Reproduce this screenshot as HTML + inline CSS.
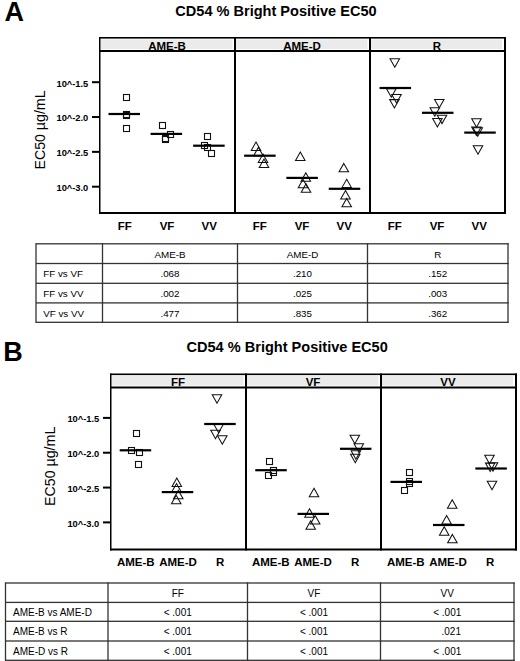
<!DOCTYPE html>
<html><head><meta charset="utf-8"><style>
html,body{margin:0;padding:0;background:#fff;width:520px;height:661px;overflow:hidden}
svg{display:block;font-family:"Liberation Sans", sans-serif}
</style></head><body>
<svg width="520" height="661" viewBox="0 0 520 661">
<rect x="0" y="0" width="520" height="661" fill="#fff"/>
<rect x="101" y="39.5" width="131.5" height="9.5" fill="#ebebeb"/>
<rect x="236" y="39.5" width="131.5" height="9.5" fill="#ebebeb"/>
<rect x="371" y="39.5" width="131" height="9.5" fill="#ebebeb"/>
<rect x="99" y="37" width="1.5" height="177" fill="#000"/>
<rect x="504" y="37" width="2" height="177" fill="#000"/>
<rect x="99" y="37" width="407" height="1.6" fill="#000"/>
<rect x="99" y="50" width="407" height="2" fill="#000"/>
<rect x="99" y="212" width="407" height="2" fill="#000"/>
<rect x="234" y="37" width="2" height="177" fill="#000"/>
<rect x="369" y="37" width="2" height="177" fill="#000"/>
<text x="167.00" y="49.60" font-size="11.5" font-weight="bold" text-anchor="middle" fill="#000" >AME-B</text>
<text x="302.00" y="49.60" font-size="11.5" font-weight="bold" text-anchor="middle" fill="#000" >AME-D</text>
<text x="437.00" y="49.60" font-size="11.5" font-weight="bold" text-anchor="middle" fill="#000" >R</text>
<rect x="92" y="81.20" width="7" height="2" fill="#000"/>
<text x="88.3" y="86.50" font-size="9.3" font-weight="bold" text-anchor="end" fill="#000" >10^-1.5</text>
<rect x="92" y="116.03" width="7" height="2" fill="#000"/>
<text x="88.3" y="121.33" font-size="9.3" font-weight="bold" text-anchor="end" fill="#000" >10^-2.0</text>
<rect x="92" y="150.86" width="7" height="2" fill="#000"/>
<text x="88.3" y="156.16" font-size="9.3" font-weight="bold" text-anchor="end" fill="#000" >10^-2.5</text>
<rect x="92" y="185.69" width="7" height="2" fill="#000"/>
<text x="88.3" y="190.99" font-size="9.3" font-weight="bold" text-anchor="end" fill="#000" >10^-3.0</text>
<text x="124.80" y="229.50" font-size="11.5" font-weight="bold" text-anchor="middle" fill="#000" >FF</text>
<text x="167.00" y="229.50" font-size="11.5" font-weight="bold" text-anchor="middle" fill="#000" >VF</text>
<text x="209.20" y="229.50" font-size="11.5" font-weight="bold" text-anchor="middle" fill="#000" >VV</text>
<text x="259.80" y="229.50" font-size="11.5" font-weight="bold" text-anchor="middle" fill="#000" >FF</text>
<text x="302.00" y="229.50" font-size="11.5" font-weight="bold" text-anchor="middle" fill="#000" >VF</text>
<text x="344.20" y="229.50" font-size="11.5" font-weight="bold" text-anchor="middle" fill="#000" >VV</text>
<text x="394.80" y="229.50" font-size="11.5" font-weight="bold" text-anchor="middle" fill="#000" >FF</text>
<text x="437.00" y="229.50" font-size="11.5" font-weight="bold" text-anchor="middle" fill="#000" >VF</text>
<text x="479.20" y="229.50" font-size="11.5" font-weight="bold" text-anchor="middle" fill="#000" >VV</text>
<text x="175.3" y="16.3" font-size="14.55" font-weight="bold" text-anchor="start" fill="#000" >CD54 % Bright Positive EC50</text>
<text x="4.4" y="21.4" font-size="27" font-weight="bold" text-anchor="start" fill="#000" >A</text>
<text x="0" y="0" font-size="14.2" text-anchor="middle" transform="translate(44.5,130) rotate(-90)">EC50 µg/mL</text>
<rect x="123.50" y="94.50" width="6" height="6" fill="none" stroke="#111" stroke-width="1.1"/>
<rect x="123.50" y="111.50" width="6" height="6" fill="none" stroke="#111" stroke-width="1.1"/>
<rect x="123.50" y="112.50" width="6" height="6" fill="none" stroke="#111" stroke-width="1.1"/>
<rect x="123.50" y="125.50" width="6" height="6" fill="none" stroke="#111" stroke-width="1.1"/>
<rect x="159.50" y="122.50" width="6" height="6" fill="none" stroke="#111" stroke-width="1.1"/>
<rect x="167.50" y="131.50" width="6" height="6" fill="none" stroke="#111" stroke-width="1.1"/>
<rect x="162.50" y="135.50" width="6" height="6" fill="none" stroke="#111" stroke-width="1.1"/>
<rect x="162.50" y="136.50" width="6" height="6" fill="none" stroke="#111" stroke-width="1.1"/>
<rect x="204.50" y="133.50" width="6" height="6" fill="none" stroke="#111" stroke-width="1.1"/>
<rect x="201.50" y="142.50" width="6" height="6" fill="none" stroke="#111" stroke-width="1.1"/>
<rect x="204.50" y="144.50" width="6" height="6" fill="none" stroke="#111" stroke-width="1.1"/>
<rect x="208.50" y="150.50" width="6" height="6" fill="none" stroke="#111" stroke-width="1.1"/>
<polygon points="256.00,142.00 260.75,150.40 251.25,150.40" fill="none" stroke="#111" stroke-width="1.05" stroke-linejoin="miter"/>
<polygon points="258.40,147.40 263.15,155.80 253.65,155.80" fill="none" stroke="#111" stroke-width="1.05" stroke-linejoin="miter"/>
<polygon points="263.00,154.10 267.75,162.50 258.25,162.50" fill="none" stroke="#111" stroke-width="1.05" stroke-linejoin="miter"/>
<polygon points="264.00,159.10 268.75,167.50 259.25,167.50" fill="none" stroke="#111" stroke-width="1.05" stroke-linejoin="miter"/>
<polygon points="300.30,152.10 305.05,160.50 295.55,160.50" fill="none" stroke="#111" stroke-width="1.05" stroke-linejoin="miter"/>
<polygon points="305.80,172.80 310.55,181.20 301.05,181.20" fill="none" stroke="#111" stroke-width="1.05" stroke-linejoin="miter"/>
<polygon points="303.00,179.30 307.75,187.70 298.25,187.70" fill="none" stroke="#111" stroke-width="1.05" stroke-linejoin="miter"/>
<polygon points="306.00,183.80 310.75,192.20 301.25,192.20" fill="none" stroke="#111" stroke-width="1.05" stroke-linejoin="miter"/>
<polygon points="343.80,163.40 348.55,171.80 339.05,171.80" fill="none" stroke="#111" stroke-width="1.05" stroke-linejoin="miter"/>
<polygon points="346.70,179.20 351.45,187.60 341.95,187.60" fill="none" stroke="#111" stroke-width="1.05" stroke-linejoin="miter"/>
<polygon points="345.50,190.60 350.25,199.00 340.75,199.00" fill="none" stroke="#111" stroke-width="1.05" stroke-linejoin="miter"/>
<polygon points="346.70,198.40 351.45,206.80 341.95,206.80" fill="none" stroke="#111" stroke-width="1.05" stroke-linejoin="miter"/>
<polygon points="390.05,58.80 399.55,58.80 394.80,67.20" fill="none" stroke="#111" stroke-width="1.05" stroke-linejoin="miter"/>
<polygon points="386.55,88.80 396.05,88.80 391.30,97.20" fill="none" stroke="#111" stroke-width="1.05" stroke-linejoin="miter"/>
<polygon points="391.75,94.50 401.25,94.50 396.50,102.90" fill="none" stroke="#111" stroke-width="1.05" stroke-linejoin="miter"/>
<polygon points="389.65,99.60 399.15,99.60 394.40,108.00" fill="none" stroke="#111" stroke-width="1.05" stroke-linejoin="miter"/>
<polygon points="434.55,99.40 444.05,99.40 439.30,107.80" fill="none" stroke="#111" stroke-width="1.05" stroke-linejoin="miter"/>
<polygon points="430.05,107.80 439.55,107.80 434.80,116.20" fill="none" stroke="#111" stroke-width="1.05" stroke-linejoin="miter"/>
<polygon points="437.25,115.20 446.75,115.20 442.00,123.60" fill="none" stroke="#111" stroke-width="1.05" stroke-linejoin="miter"/>
<polygon points="432.65,118.50 442.15,118.50 437.40,126.90" fill="none" stroke="#111" stroke-width="1.05" stroke-linejoin="miter"/>
<polygon points="471.75,118.80 481.25,118.80 476.50,127.20" fill="none" stroke="#111" stroke-width="1.05" stroke-linejoin="miter"/>
<polygon points="471.65,127.10 481.15,127.10 476.40,135.50" fill="none" stroke="#111" stroke-width="1.05" stroke-linejoin="miter"/>
<polygon points="473.05,127.80 482.55,127.80 477.80,136.20" fill="none" stroke="#111" stroke-width="1.05" stroke-linejoin="miter"/>
<polygon points="473.25,145.80 482.75,145.80 478.00,154.20" fill="none" stroke="#111" stroke-width="1.05" stroke-linejoin="miter"/>
<rect x="108.50" y="112.90" width="31.5" height="2.2" fill="#000"/>
<rect x="150.60" y="132.80" width="31.5" height="2.2" fill="#000"/>
<rect x="193.15" y="144.60" width="31.5" height="2.2" fill="#000"/>
<rect x="244.15" y="154.60" width="31.5" height="2.2" fill="#000"/>
<rect x="286.35" y="176.80" width="31.5" height="2.2" fill="#000"/>
<rect x="328.75" y="187.70" width="31.5" height="2.2" fill="#000"/>
<rect x="379.55" y="86.90" width="31.5" height="2.2" fill="#000"/>
<rect x="422.00" y="111.70" width="31.5" height="2.2" fill="#000"/>
<rect x="464.25" y="131.50" width="31.5" height="2.2" fill="#000"/>
<rect x="36" y="243.15" width="472.65" height="1.3" fill="#333"/>
<rect x="36" y="262.85" width="472.65" height="1.3" fill="#333"/>
<rect x="36" y="282.65" width="472.65" height="1.3" fill="#333"/>
<rect x="36" y="302.25" width="472.65" height="1.3" fill="#333"/>
<rect x="36" y="321.65" width="472.65" height="1.3" fill="#333"/>
<rect x="35.35" y="243.15" width="1.3" height="79.8" fill="#333"/>
<rect x="101.85" y="243.15" width="1.3" height="79.8" fill="#333"/>
<rect x="236.85" y="243.15" width="1.3" height="79.8" fill="#333"/>
<rect x="366.85" y="243.15" width="1.3" height="79.8" fill="#333"/>
<rect x="507.35" y="243.15" width="1.3" height="79.8" fill="#333"/>
<text x="170.00" y="257.55" font-size="9.8" font-weight="normal" text-anchor="middle" fill="#000" >AME-B</text>
<text x="302.50" y="257.55" font-size="9.8" font-weight="normal" text-anchor="middle" fill="#000" >AME-D</text>
<text x="437.75" y="257.55" font-size="9.8" font-weight="normal" text-anchor="middle" fill="#000" >R</text>
<text x="43.2" y="277.30" font-size="9.8" font-weight="normal" text-anchor="start" fill="#000" >FF vs VF</text>
<text x="170.00" y="277.30" font-size="9.8" font-weight="normal" text-anchor="middle" fill="#000" >.068</text>
<text x="302.50" y="277.30" font-size="9.8" font-weight="normal" text-anchor="middle" fill="#000" >.210</text>
<text x="437.75" y="277.30" font-size="9.8" font-weight="normal" text-anchor="middle" fill="#000" >.152</text>
<text x="43.2" y="297.00" font-size="9.8" font-weight="normal" text-anchor="start" fill="#000" >FF vs VV</text>
<text x="170.00" y="297.00" font-size="9.8" font-weight="normal" text-anchor="middle" fill="#000" >.002</text>
<text x="302.50" y="297.00" font-size="9.8" font-weight="normal" text-anchor="middle" fill="#000" >.025</text>
<text x="437.75" y="297.00" font-size="9.8" font-weight="normal" text-anchor="middle" fill="#000" >.003</text>
<text x="43.2" y="316.50" font-size="9.8" font-weight="normal" text-anchor="start" fill="#000" >VF vs VV</text>
<text x="170.00" y="316.50" font-size="9.8" font-weight="normal" text-anchor="middle" fill="#000" >.477</text>
<text x="302.50" y="316.50" font-size="9.8" font-weight="normal" text-anchor="middle" fill="#000" >.835</text>
<text x="437.75" y="316.50" font-size="9.8" font-weight="normal" text-anchor="middle" fill="#000" >.362</text>
<rect x="112" y="376.0" width="131.5" height="9.5" fill="#ebebeb"/>
<rect x="247" y="376.0" width="131.5" height="9.5" fill="#ebebeb"/>
<rect x="382" y="376.0" width="131" height="9.5" fill="#ebebeb"/>
<rect x="110" y="373.5" width="1.5" height="177" fill="#000"/>
<rect x="515" y="373.5" width="2" height="177" fill="#000"/>
<rect x="110" y="373.5" width="407" height="1.6" fill="#000"/>
<rect x="110" y="386.5" width="407" height="2" fill="#000"/>
<rect x="110" y="548.5" width="407" height="2" fill="#000"/>
<rect x="245" y="373.5" width="2" height="177" fill="#000"/>
<rect x="380" y="373.5" width="2" height="177" fill="#000"/>
<text x="178.00" y="386.10" font-size="11.5" font-weight="bold" text-anchor="middle" fill="#000" >FF</text>
<text x="313.00" y="386.10" font-size="11.5" font-weight="bold" text-anchor="middle" fill="#000" >VF</text>
<text x="448.00" y="386.10" font-size="11.5" font-weight="bold" text-anchor="middle" fill="#000" >VV</text>
<rect x="103" y="416.90" width="7" height="2" fill="#000"/>
<text x="99.2" y="422.20" font-size="9.3" font-weight="bold" text-anchor="end" fill="#000" >10^-1.5</text>
<rect x="103" y="451.73" width="7" height="2" fill="#000"/>
<text x="99.2" y="457.03" font-size="9.3" font-weight="bold" text-anchor="end" fill="#000" >10^-2.0</text>
<rect x="103" y="486.56" width="7" height="2" fill="#000"/>
<text x="99.2" y="491.86" font-size="9.3" font-weight="bold" text-anchor="end" fill="#000" >10^-2.5</text>
<rect x="103" y="521.39" width="7" height="2" fill="#000"/>
<text x="99.2" y="526.69" font-size="9.3" font-weight="bold" text-anchor="end" fill="#000" >10^-3.0</text>
<text x="135.80" y="566.00" font-size="11.5" font-weight="bold" text-anchor="middle" fill="#000" >AME-B</text>
<text x="178.00" y="566.00" font-size="11.5" font-weight="bold" text-anchor="middle" fill="#000" >AME-D</text>
<text x="220.20" y="566.00" font-size="11.5" font-weight="bold" text-anchor="middle" fill="#000" >R</text>
<text x="270.80" y="566.00" font-size="11.5" font-weight="bold" text-anchor="middle" fill="#000" >AME-B</text>
<text x="313.00" y="566.00" font-size="11.5" font-weight="bold" text-anchor="middle" fill="#000" >AME-D</text>
<text x="355.20" y="566.00" font-size="11.5" font-weight="bold" text-anchor="middle" fill="#000" >R</text>
<text x="405.80" y="566.00" font-size="11.5" font-weight="bold" text-anchor="middle" fill="#000" >AME-B</text>
<text x="448.00" y="566.00" font-size="11.5" font-weight="bold" text-anchor="middle" fill="#000" >AME-D</text>
<text x="490.20" y="566.00" font-size="11.5" font-weight="bold" text-anchor="middle" fill="#000" >R</text>
<text x="186.5" y="352.4" font-size="14.55" font-weight="bold" text-anchor="start" fill="#000" >CD54 % Bright Positive EC50</text>
<text x="3.2" y="360.5" font-size="27" font-weight="bold" text-anchor="start" fill="#000" >B</text>
<text x="0" y="0" font-size="14.2" text-anchor="middle" transform="translate(55.2,466.3) rotate(-90)">EC50 µg/mL</text>
<rect x="133.50" y="430.50" width="6" height="6" fill="none" stroke="#111" stroke-width="1.1"/>
<rect x="128.50" y="447.50" width="6" height="6" fill="none" stroke="#111" stroke-width="1.1"/>
<rect x="136.50" y="449.50" width="6" height="6" fill="none" stroke="#111" stroke-width="1.1"/>
<rect x="135.50" y="461.50" width="6" height="6" fill="none" stroke="#111" stroke-width="1.1"/>
<rect x="266.50" y="458.50" width="6" height="6" fill="none" stroke="#111" stroke-width="1.1"/>
<rect x="270.50" y="467.50" width="6" height="6" fill="none" stroke="#111" stroke-width="1.1"/>
<rect x="270.50" y="469.50" width="6" height="6" fill="none" stroke="#111" stroke-width="1.1"/>
<rect x="265.50" y="472.50" width="6" height="6" fill="none" stroke="#111" stroke-width="1.1"/>
<rect x="406.50" y="469.50" width="6" height="6" fill="none" stroke="#111" stroke-width="1.1"/>
<rect x="406.50" y="478.50" width="6" height="6" fill="none" stroke="#111" stroke-width="1.1"/>
<rect x="406.50" y="480.50" width="6" height="6" fill="none" stroke="#111" stroke-width="1.1"/>
<rect x="401.50" y="487.50" width="6" height="6" fill="none" stroke="#111" stroke-width="1.1"/>
<polygon points="176.80,478.10 181.55,486.50 172.05,486.50" fill="none" stroke="#111" stroke-width="1.05" stroke-linejoin="miter"/>
<polygon points="176.50,483.60 181.25,492.00 171.75,492.00" fill="none" stroke="#111" stroke-width="1.05" stroke-linejoin="miter"/>
<polygon points="178.30,490.30 183.05,498.70 173.55,498.70" fill="none" stroke="#111" stroke-width="1.05" stroke-linejoin="miter"/>
<polygon points="176.20,495.30 180.95,503.70 171.45,503.70" fill="none" stroke="#111" stroke-width="1.05" stroke-linejoin="miter"/>
<polygon points="314.00,488.30 318.75,496.70 309.25,496.70" fill="none" stroke="#111" stroke-width="1.05" stroke-linejoin="miter"/>
<polygon points="309.50,508.80 314.25,517.20 304.75,517.20" fill="none" stroke="#111" stroke-width="1.05" stroke-linejoin="miter"/>
<polygon points="315.20,515.60 319.95,524.00 310.45,524.00" fill="none" stroke="#111" stroke-width="1.05" stroke-linejoin="miter"/>
<polygon points="310.70,520.80 315.45,529.20 305.95,529.20" fill="none" stroke="#111" stroke-width="1.05" stroke-linejoin="miter"/>
<polygon points="452.20,499.80 456.95,508.20 447.45,508.20" fill="none" stroke="#111" stroke-width="1.05" stroke-linejoin="miter"/>
<polygon points="446.60,515.50 451.35,523.90 441.85,523.90" fill="none" stroke="#111" stroke-width="1.05" stroke-linejoin="miter"/>
<polygon points="444.20,526.80 448.95,535.20 439.45,535.20" fill="none" stroke="#111" stroke-width="1.05" stroke-linejoin="miter"/>
<polygon points="452.40,534.40 457.15,542.80 447.65,542.80" fill="none" stroke="#111" stroke-width="1.05" stroke-linejoin="miter"/>
<polygon points="212.25,394.80 221.75,394.80 217.00,403.20" fill="none" stroke="#111" stroke-width="1.05" stroke-linejoin="miter"/>
<polygon points="213.85,424.30 223.35,424.30 218.60,432.70" fill="none" stroke="#111" stroke-width="1.05" stroke-linejoin="miter"/>
<polygon points="210.75,430.30 220.25,430.30 215.50,438.70" fill="none" stroke="#111" stroke-width="1.05" stroke-linejoin="miter"/>
<polygon points="217.55,435.80 227.05,435.80 222.30,444.20" fill="none" stroke="#111" stroke-width="1.05" stroke-linejoin="miter"/>
<polygon points="350.05,435.30 359.55,435.30 354.80,443.70" fill="none" stroke="#111" stroke-width="1.05" stroke-linejoin="miter"/>
<polygon points="354.05,443.80 363.55,443.80 358.80,452.20" fill="none" stroke="#111" stroke-width="1.05" stroke-linejoin="miter"/>
<polygon points="351.15,450.80 360.65,450.80 355.90,459.20" fill="none" stroke="#111" stroke-width="1.05" stroke-linejoin="miter"/>
<polygon points="350.55,454.30 360.05,454.30 355.30,462.70" fill="none" stroke="#111" stroke-width="1.05" stroke-linejoin="miter"/>
<polygon points="484.75,455.30 494.25,455.30 489.50,463.70" fill="none" stroke="#111" stroke-width="1.05" stroke-linejoin="miter"/>
<polygon points="485.45,463.10 494.95,463.10 490.20,471.50" fill="none" stroke="#111" stroke-width="1.05" stroke-linejoin="miter"/>
<polygon points="488.25,462.80 497.75,462.80 493.00,471.20" fill="none" stroke="#111" stroke-width="1.05" stroke-linejoin="miter"/>
<polygon points="487.25,481.30 496.75,481.30 492.00,489.70" fill="none" stroke="#111" stroke-width="1.05" stroke-linejoin="miter"/>
<rect x="119.70" y="449.20" width="31.5" height="2.2" fill="#000"/>
<rect x="161.75" y="491.00" width="31.5" height="2.2" fill="#000"/>
<rect x="204.20" y="422.90" width="31.5" height="2.2" fill="#000"/>
<rect x="255.25" y="469.10" width="31.5" height="2.2" fill="#000"/>
<rect x="297.55" y="512.80" width="31.5" height="2.2" fill="#000"/>
<rect x="339.95" y="447.70" width="31.5" height="2.2" fill="#000"/>
<rect x="390.50" y="480.80" width="31.5" height="2.2" fill="#000"/>
<rect x="433.00" y="523.90" width="31.5" height="2.2" fill="#000"/>
<rect x="475.35" y="467.40" width="31.5" height="2.2" fill="#000"/>
<rect x="5.5" y="582.35" width="509.15" height="1.3" fill="#333"/>
<rect x="5.5" y="601.75" width="509.15" height="1.3" fill="#333"/>
<rect x="5.5" y="620.65" width="509.15" height="1.3" fill="#333"/>
<rect x="5.5" y="640.35" width="509.15" height="1.3" fill="#333"/>
<rect x="5.5" y="659.65" width="509.15" height="1.3" fill="#333"/>
<rect x="4.85" y="582.35" width="1.3" height="78.59999999999995" fill="#333"/>
<rect x="107.35" y="582.35" width="1.3" height="78.59999999999995" fill="#333"/>
<rect x="246.85" y="582.35" width="1.3" height="78.59999999999995" fill="#333"/>
<rect x="379.85" y="582.35" width="1.3" height="78.59999999999995" fill="#333"/>
<rect x="513.35" y="582.35" width="1.3" height="78.59999999999995" fill="#333"/>
<text x="177.75" y="596.60" font-size="10" font-weight="normal" text-anchor="middle" fill="#000" >FF</text>
<text x="314.00" y="596.60" font-size="10" font-weight="normal" text-anchor="middle" fill="#000" >VF</text>
<text x="447.25" y="596.60" font-size="10" font-weight="normal" text-anchor="middle" fill="#000" >VV</text>
<text x="13" y="615.75" font-size="10" font-weight="normal" text-anchor="start" fill="#000" >AME-B vs AME-D</text>
<text x="177.75" y="615.75" font-size="10" font-weight="normal" text-anchor="middle" fill="#000" >&lt; .001</text>
<text x="314.00" y="615.75" font-size="10" font-weight="normal" text-anchor="middle" fill="#000" >&lt; .001</text>
<text x="447.25" y="615.75" font-size="10" font-weight="normal" text-anchor="middle" fill="#000" >&lt; .001</text>
<text x="13" y="635.05" font-size="10" font-weight="normal" text-anchor="start" fill="#000" >AME-B vs R</text>
<text x="177.75" y="635.05" font-size="10" font-weight="normal" text-anchor="middle" fill="#000" >&lt; .001</text>
<text x="314.00" y="635.05" font-size="10" font-weight="normal" text-anchor="middle" fill="#000" >&lt; .001</text>
<text x="451.25" y="635.05" font-size="10" font-weight="normal" text-anchor="middle" fill="#000" >.021</text>
<text x="13" y="654.55" font-size="10" font-weight="normal" text-anchor="start" fill="#000" >AME-D vs R</text>
<text x="177.75" y="654.55" font-size="10" font-weight="normal" text-anchor="middle" fill="#000" >&lt; .001</text>
<text x="314.00" y="654.55" font-size="10" font-weight="normal" text-anchor="middle" fill="#000" >&lt; .001</text>
<text x="447.25" y="654.55" font-size="10" font-weight="normal" text-anchor="middle" fill="#000" >&lt; .001</text>
</svg>
</body></html>
